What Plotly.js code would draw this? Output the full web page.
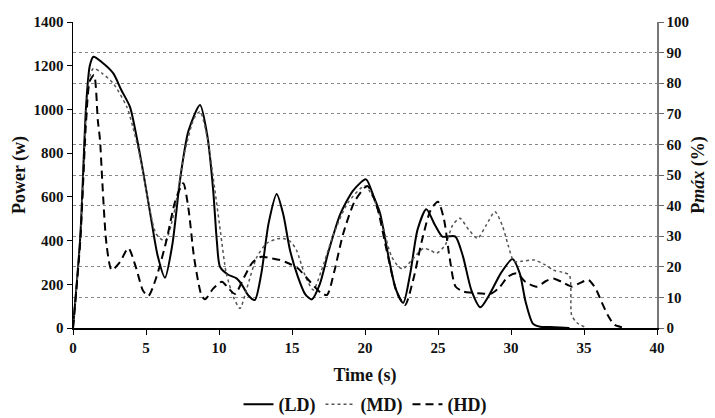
<!DOCTYPE html>
<html><head><meta charset="utf-8">
<script src="https://cdn.plot.ly/plotly-3.0.1.min.js"></script>
<style>html,body{margin:0;padding:0;background:#fff}#chart{width:715px;height:418px}</style>
</head><body><div id="chart"></div>
<script>
var ldTime = [0,0.5,0.9,1.15,1.4,2.0,2.76,3.3,3.9,4.4,4.82,5.3,5.8,6.3,6.8,7.33,7.9,8.7,9.2,9.6,9.85,10.07,10.6,11.2,11.55,12.0,12.45,12.9,13.4,13.95,14.4,14.86,15.4,15.9,16.35,16.9,17.5,18.3,19.2,20.07,20.6,21.03,21.6,22.1,22.62,23.1,23.6,24.2,24.8,25.3,25.8,26.2,26.7,27.3,27.9,28.5,29.3,30.1,30.6,31.0,31.5,32,33,34];
var ldPower = [0,420,1020,1200,1241,1215,1165,1090,1012,860,708,520,330,230,380,677,900,1020,880,631,400,280,245,227,200,150,128,250,480,613,520,357,235,155,131,200,350,520,630,680,600,525,330,180,115,250,450,543,470,418,420,418,330,170,95,150,250,316,250,120,20,6,4,0];

var mdTime = [0,0.5,0.9,1.15,1.4,2.0,2.76,3.68,4.1,4.59,5.1,5.7,6.3,6.9,7.6,8.3,8.7,9.2,9.7,10.1,10.5,11.0,11.44,11.9,12.6,13.27,14.0,14.4,14.9,15.3,15.9,16.46,17.0,17.8,18.8,20.0,20.6,21.2,21.8,22.3,22.6,23.2,24.0,24.5,24.9,25.5,26.0,26.5,27.1,27.7,28.3,28.9,29.4,29.8,30.2,30.7,31.6,32.3,32.9,33.5,34.0,34.15,34.5,35.1];
var mdPower = [0,400,980,1150,1188,1165,1119,1012,920,784,600,430,398,520,790,960,990,870,640,440,250,140,90,180,326,387,408,410,395,357,240,174,260,420,570,650,590,470,330,280,270,310,364,355,342,380,470,502,450,410,470,532,470,380,305,305,311,290,265,255,242,60,25,3];

var hdTime = [0,0.5,0.9,1.15,1.44,1.7,1.85,2.0,2.3,2.65,3.2,3.79,4.3,4.8,5.16,5.7,6.4,7.0,7.55,7.9,8.3,8.8,9.04,9.6,10.2,10.6,11.1,11.7,12.3,12.9,13.5,14.18,14.8,15.4,16.0,16.6,17.0,17.4,17.9,18.5,19.3,20.16,20.8,21.5,22.2,22.74,23.3,23.9,24.5,25.0,25.4,25.8,26.2,26.7,27.2,28.0,28.6,29.2,29.8,30.4,31.0,31.76,32.4,32.9,33.5,34.2,34.7,35.3,35.8,36.2,36.7,37.1,37.8];
var hdPower = [0,400,950,1130,1157,950,860,677,380,265,300,365,280,170,146,230,400,580,662,550,320,150,131,180,212,185,156,230,300,326,320,311,295,273,230,185,160,151,260,430,580,650,560,350,160,105,220,400,540,578,500,320,190,168,162,158,156,185,235,250,210,189,215,227,210,189,205,220,180,120,50,14,0];

var seriesNames = ['(LD)','(MD)','(HD)'];
var xTicks = [0,5,10,15,20,25,30,35,40];
var yTicks = [0,200,400,600,800,1000,1200,1400];
var y2Ticks = [0,10,20,30,40,50,60,70,80,90,100];

var serif = "'Liberation Serif', 'Times New Roman', serif";
var tickFont = {family: serif, size: 15, color: '#111', weight: 'bold'};
var titleFont = {family: serif, size: 18, color: '#111', weight: 'bold'};

var traces = [
  {x: ldTime, y: ldPower, name: seriesNames[0], mode: 'lines', line: {color: '#000', width: 2, dash: 'solid', shape: 'spline', smoothing: 0.7}, hoverinfo: 'skip'},
  {x: mdTime, y: mdPower, name: seriesNames[1], mode: 'lines', line: {color: '#555', width: 1.5, dash: 'dot', shape: 'spline', smoothing: 0.7}, hoverinfo: 'skip'},
  {x: hdTime, y: hdPower, name: seriesNames[2], mode: 'lines', line: {color: '#000', width: 2, dash: '8px,5px', shape: 'spline', smoothing: 0.7}, hoverinfo: 'skip'},
  {x: [null], y: [null], yaxis: 'y2', showlegend: false, mode: 'lines', hoverinfo: 'skip'}
];

var layout = {
  width: 715, height: 418,
  margin: {l: 73, r: 58, t: 22, b: 90, autoexpand: false},
  paper_bgcolor: '#fff', plot_bgcolor: '#fff',
  showlegend: true,
  legend: {orientation: 'h', x: 0.5, xanchor: 'center', y: -0.25, yanchor: 'middle',
           font: {family: serif, size: 18, color: '#111', weight: 'bold'}, itemwidth: 30, tracegroupgap: 0},
  xaxis: {range: [0, 40], tickvals: xTicks, ticks: 'outside', ticklen: 5, tickcolor: '#000',
          showline: true, linecolor: '#000', linewidth: 1.5, showgrid: false, zeroline: false, automargin: false,
          tickfont: tickFont,
          title: {text: 'Time (s)', font: titleFont, standoff: 14}},
  yaxis: {range: [0, 1400], tickvals: yTicks, ticks: 'outside', ticklen: 5, tickcolor: '#000',
          showline: true, linecolor: '#000', linewidth: 1.5, showgrid: false, zeroline: false, automargin: false,
          tickfont: tickFont,
          title: {text: 'Power (w)', font: titleFont, standoff: 3}},
  yaxis2: {range: [0, 100], tickvals: y2Ticks, overlaying: 'y', side: 'right', ticks: 'outside', ticklen: 5,
           tickcolor: '#666', showline: true, linecolor: '#777', linewidth: 1.5, automargin: false,
           showgrid: true, gridcolor: '#888', griddash: 'dot', gridwidth: 1, zeroline: false,
           tickfont: tickFont,
           title: {text: 'P<i>máx</i> (%)', font: titleFont, standoff: 3}}
};

Plotly.newPlot('chart', traces, layout, {displayModeBar: false, staticPlot: true});
</script>
</body></html>
